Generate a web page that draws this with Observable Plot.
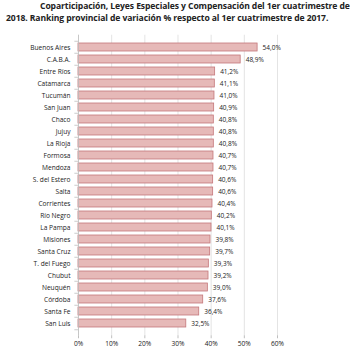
<!DOCTYPE html>
<html><head><meta charset="utf-8">
<script src="https://cdn.jsdelivr.net/npm/d3@7"></script>
<script src="https://cdn.jsdelivr.net/npm/@observablehq/plot@0.6"></script>
<style>
body{margin:0;background:#fff;font-family:"Open Sans",sans-serif;}
#t{position:relative;height:28px;width:350px;font-weight:bold;font-size:8.6px;color:#222;letter-spacing:-0.1px}
#t div{position:absolute;white-space:nowrap}
</style></head><body>
<div id="t"><div style="left:40px;top:0px">Coparticipación, Leyes Especiales y Compensación del 1er cuatrimestre de</div><div style="left:6px;top:12px">2018. Ranking provincial de variación % respecto al 1er cuatrimestre de 2017.</div></div>
<div id="c"></div>
<script>
const provincias = ["Buenos Aires","C.A.B.A.","Entre Ríos","Catamarca","Tucumán","San Juan","Chaco","Jujuy","La Rioja","Formosa","Mendoza","S. del Estero","Salta","Corrientes","Río Negro","La Pampa","Misiones","Santa Cruz","T. del Fuego","Chubut","Neuquén","Córdoba","Santa Fe","San Luis"];
const variacion = [54.0,48.9,41.2,41.1,41.0,40.9,40.8,40.8,40.8,40.7,40.7,40.6,40.6,40.4,40.2,40.1,39.8,39.7,39.3,39.2,39.0,37.6,36.4,32.5];
const xTicks = [0,10,20,30,40,50,60];
const data = provincias.map((p,i)=>({p, v: variacion[i]}));
const fmt = v => v.toFixed(1).replace(".", ",") + "%";
const chart = Plot.plot({
  width: 350, height: 322,
  marginTop: 6.75, marginBottom: 14.75, marginLeft: 78, marginRight: 73,
  style: {fontFamily: "Open Sans, sans-serif", fontSize: "6.5px", color: "#222"},
  x: {domain: [0, 60], label: null},
  y: {domain: provincias, padding: 0.34, label: null},
  marks: [
    Plot.gridX(xTicks, {stroke: "#d9d9d9", strokeOpacity: 1, strokeWidth: 0.7}),
    Plot.barX(data, {x: "v", y: "p", fill: "#e6b9b8", stroke: "#c4777a", strokeWidth: 0.8}),
    Plot.text(data, {x: "v", y: "p", text: d => fmt(d.v), textAnchor: "start", dx: 5, fontSize: 6.5, fill: "#222"}),
    Plot.ruleX([0], {stroke: "#bfbfbf", strokeWidth: 0.8}),
    Plot.ruleY(provincias, {y: d => d, x1: -1.1, x2: 0, dy: -6.25, stroke: "#bfbfbf", strokeWidth: 0.8}),
    Plot.ruleY([provincias[provincias.length - 1]], {y: d => d, x1: -1.1, x2: 0, dy: 6.25, stroke: "#bfbfbf", strokeWidth: 0.8}),
    Plot.axisY({tickSize: 0, tickPadding: 8, fill: "#222", fontSize: 6.6}),
    Plot.axisX({ticks: xTicks, tickFormat: d => d + "%", tickSize: 3, tickPadding: 3, stroke: "#bfbfbf", fill: "#222", fontSize: 6.6})
  ]
});
document.getElementById("c").appendChild(chart);
</script>
</body></html>
